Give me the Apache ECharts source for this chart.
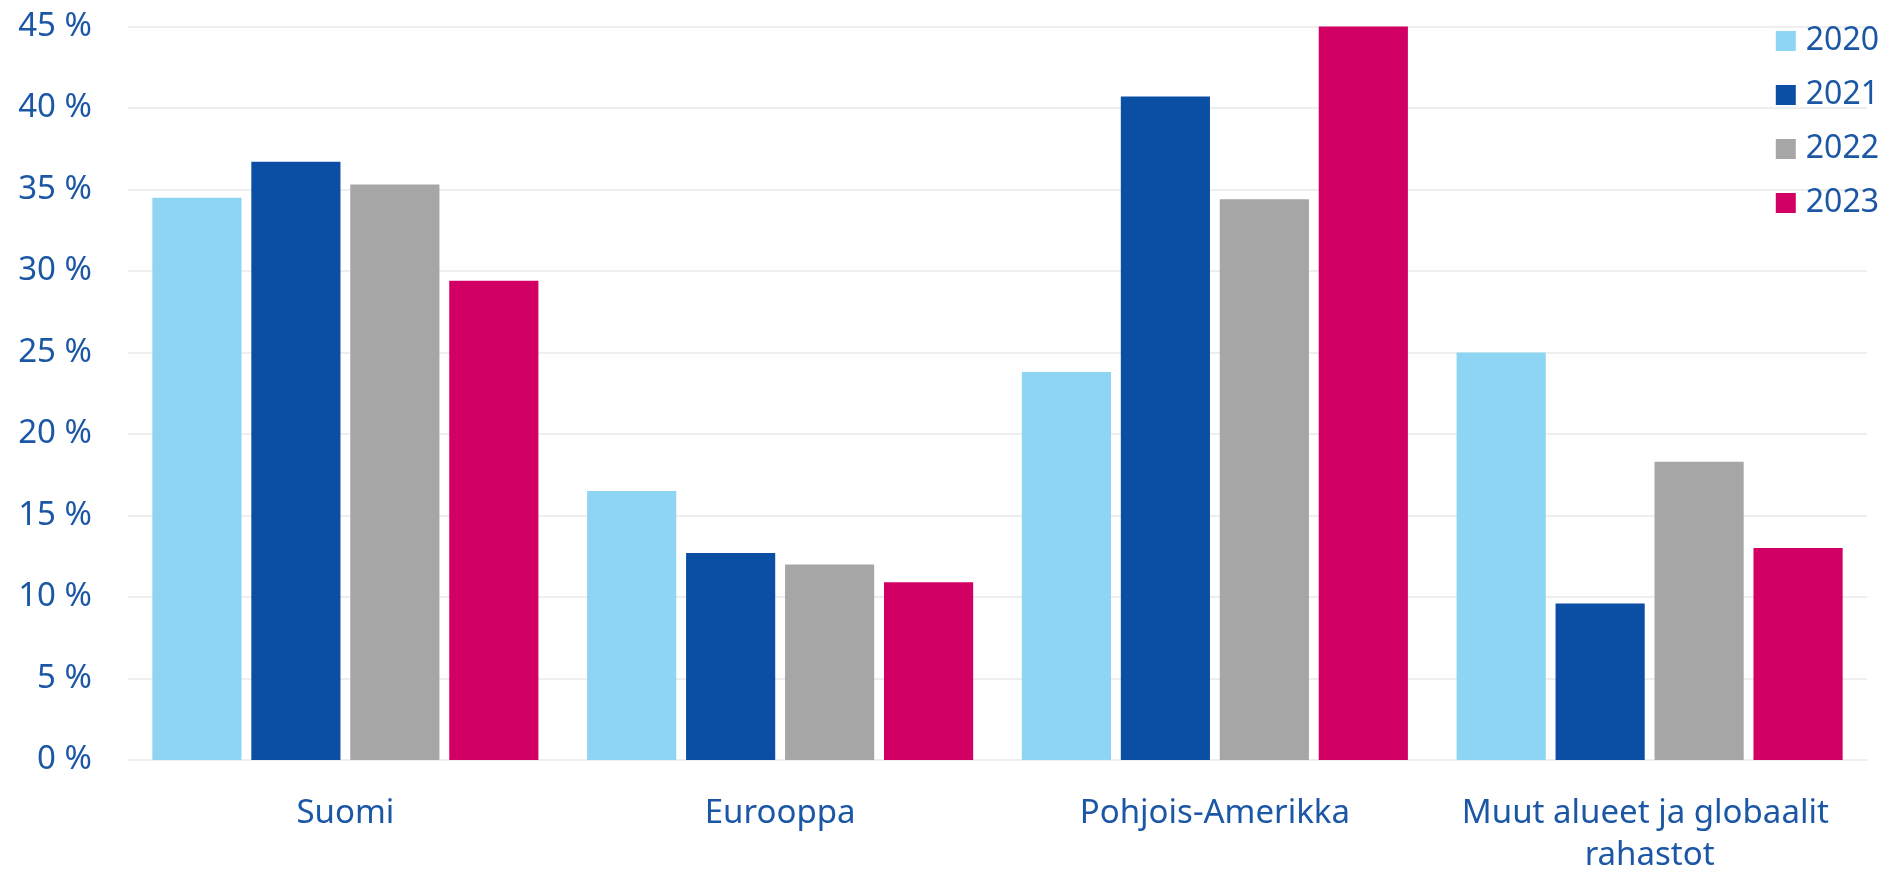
<!DOCTYPE html>
<html>
<head>
<meta charset="utf-8">
<script src="https://cdn.jsdelivr.net/npm/echarts@6/dist/echarts.min.js"></script>
<style>
html,body{margin:0;padding:0;background:#fff;}
#chart{width:1888px;height:873px;}
</style>
</head>
<body>
<div id="chart"></div>
<script>
const categories = ['Suomi', 'Eurooppa', 'Pohjois-Amerikka', 'Muut alueet ja globaalit rahastot'];
const years = ['2020', '2021', '2022', '2023'];
const values2020 = [34.5, 16.5, 23.8, 25.0];
const values2021 = [36.7, 12.7, 40.7, 9.6];
const values2022 = [35.3, 12.0, 34.4, 18.3];
const values2023 = [29.4, 10.9, 45.0, 13.0];
const yTicks = [0, 5, 10, 15, 20, 25, 30, 35, 40, 45];

const colors = ['#8DD5F2', '#0A4FA3', '#A6A6A6', '#D20064'];
const textColor = '#1B57A5';
const font = '"Noto Sans", "Open Sans", sans-serif';
const seriesData = [values2020, values2021, values2022, values2023];

const chart = echarts.init(document.getElementById('chart'));
chart.setOption({
  animation: false,
  color: colors,
  grid: { left: 128, right: 21, top: 26.5, bottom: 113, containLabel: false, outerBoundsMode: 'none' },
  legend: {
    orient: 'vertical',
    right: 4,
    top: 19,
    itemWidth: 20,
    itemHeight: 20,
    itemGap: 20,
    icon: 'rect',
    data: years,
    textStyle: { color: textColor, fontSize: 32, fontFamily: font, lineHeight: 34, padding: [0, 0, 0, 5] }
  },
  xAxis: {
    type: 'category',
    data: categories,
    axisTick: { show: false },
    axisLine: { lineStyle: { color: '#eeeeee', width: 2 } },
    axisLabel: {
      color: textColor, fontSize: 33, fontFamily: font, margin: 33, lineHeight: 42,
      width: 390, overflow: 'break', interval: 0
    }
  },
  yAxis: {
    type: 'value',
    min: yTicks[0],
    max: yTicks[yTicks.length - 1],
    interval: 5,
    axisLine: { show: false },
    axisTick: { show: false },
    splitLine: { lineStyle: { color: '#eeeeee', width: 2 } },
    axisLabel: {
      color: textColor, fontSize: 33, fontFamily: font, margin: 36,
      formatter: v => v + ' %'
    }
  },
  series: years.map((y, i) => ({
    name: y,
    type: 'bar',
    data: seriesData[i],
    barGap: '11%',
    barCategoryGap: '11.2%',
    itemStyle: { color: colors[i] }
  }))
});
</script>
</body>
</html>
